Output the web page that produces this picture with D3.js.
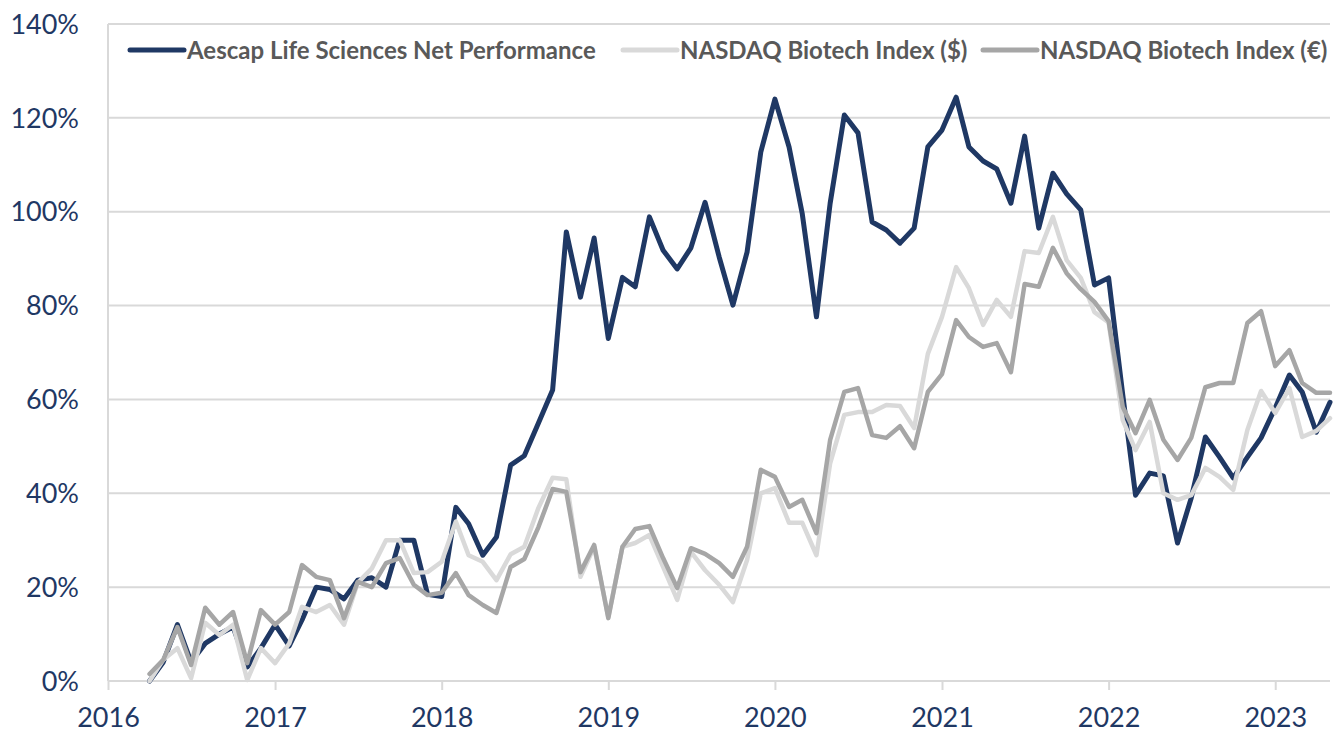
<!DOCTYPE html>
<meta charset="utf-8">
<script src="https://d3js.org/d3.v7.min.js"></script>
<style>
  body { margin: 0; background: #fff; }
  text { font-family: Lato, "Open Sans", sans-serif; }
</style>
<div id="chart"></div>
<script>

// series names + colours
var seriesNames = ["Aescap Life Sciences Net Performance", "NASDAQ Biotech Index ($)", "NASDAQ Biotech Index (\u20AC)"];
var seriesColors = ["#1f3864", "#d9d9d9", "#a6a6a6"];

// monthly observations, first one is April 2016
var firstMonth = "2016-04";

var aescap = [0, 4, 12, 4, 8, 10, 11.5, 3, 7, 12, 7.5, 13,
  20, 19.5, 17.5, 21.5, 22, 20, 30, 30, 18.5, 18, 37, 33.5,
  26.8, 30.7, 46, 48, 55, 62, 95.7, 81.8, 94.4, 73, 86, 84,
  98.9, 91.8, 87.8, 92.3, 102, 90.3, 80.1, 91.4, 112.7, 124, 113.8, 99.5,
  77.6, 101.8, 120.6, 116.8, 97.8, 96.1, 93.3, 96.5, 113.8, 117.4, 124.4, 113.8,
  110.8, 109.1, 101.8, 116.1, 96.5, 108.2, 103.8, 100.4, 84.4, 85.9, 61, 39.6,
  44.3, 43.7, 29.4, 39, 52, 47.7, 43.3, 47.7, 51.8, 58.2, 65.2, 61.6,
  53, 59.4];

var nbiUsd = [0, 4.5, 7, 0.6, 12.4, 9.8, 12, 0.2, 7, 3.8, 8, 15.8,
  14.7, 16.2, 12, 20.9, 24, 30, 30, 23, 23.2, 25.4, 34, 26.8,
  25.4, 21.5, 27, 28.6, 36.9, 43.3, 43, 22.2, 28.6, 13.6, 28.6, 29.4,
  31.1, 24.3, 17.3, 27.5, 23.6, 20.5, 16.8, 25.8, 40, 41.1, 33.7, 33.7,
  26.8, 46.4, 56.7, 57.3, 57.3, 58.8, 58.6, 53.9, 69.7, 77.6, 88.2, 83.7,
  75.9, 81.2, 77.6, 91.6, 91.2, 98.9, 89.7, 85.9, 78.6, 76.4, 55.6, 49.2,
  55.2, 40, 38.6, 39.6, 45.4, 43.5, 40.7, 53.5, 61.8, 57.1, 62.4, 52,
  53.3, 56];

var nbiEur = [1.5, 4.5, 11.5, 3.4, 15.6, 12, 14.7, 3.8, 15.1, 12, 14.7, 24.7,
  22.2, 21.5, 13.4, 21.1, 20, 25.1, 26.2, 20.5, 18.3, 18.8, 23, 18.3,
  16.2, 14.5, 24.3, 26, 32.8, 40.9, 40.3, 23.2, 29, 13.4, 28.6, 32.4,
  33, 26.2, 19.8, 28.3, 27.1, 25.1, 22.2, 28.6, 45, 43.5, 37.1, 38.6,
  31.5, 51.4, 61.6, 62.4, 52.4, 51.8, 54.3, 49.6, 61.6, 65.4, 76.9, 73.3,
  71.2, 72, 65.8, 84.6, 84, 92.3, 86.9, 83.5, 80.8, 76.7, 58.4, 52.8,
  59.9, 51.4, 47.1, 51.8, 62.6, 63.5, 63.5, 76.3, 78.8, 67.1, 70.5, 63.5,
  61.4, 61.4];

var yTicks = [0, 20, 40, 60, 80, 100, 120, 140];
var xTickYears = [2016, 2017, 2018, 2019, 2020, 2021, 2022, 2023];

var width = 1343, height = 736;
var plotLeft = 108, plotRight = 1330, plotTop = 24, plotBottom = 681;

var svg = d3.select("#chart").append("svg")
  .attr("width", width)
  .attr("height", height);

var parseMonth = d3.timeParse("%Y-%m");
var start = parseMonth(firstMonth);
var months = d3.range(aescap.length).map(function(i) { return d3.timeMonth.offset(start, i); });

var x = d3.scaleTime()
  .domain([new Date(2016, 0, 1), months[months.length - 1]])
  .range([plotLeft, plotRight]);

var y = d3.scaleLinear()
  .domain([0, 140])
  .range([plotBottom, plotTop]);

// gridlines
svg.append("g")
  .selectAll("line")
  .data(yTicks.slice(1))
  .enter().append("line")
    .attr("x1", plotLeft).attr("x2", plotRight)
    .attr("y1", function(d) { return y(d); })
    .attr("y2", function(d) { return y(d); })
    .attr("stroke", "#d9d9d9")
    .attr("stroke-width", 2);

// y axis line
svg.append("line")
  .attr("x1", plotLeft).attr("x2", plotLeft)
  .attr("y1", plotTop).attr("y2", plotBottom)
  .attr("stroke", "#d9d9d9")
  .attr("stroke-width", 2);

// y labels
svg.append("g")
  .selectAll("text")
  .data(yTicks)
  .enter().append("text")
    .attr("x", 79)
    .attr("y", function(d) { return y(d); })
    .attr("dy", "0.36em")
    .attr("text-anchor", "end")
    .attr("fill", "#1f3864")
    .style("font-size", "27px")
    .text(function(d) { return d + "%"; });

// x axis
var xAxis = d3.axisBottom(x)
  .tickValues(xTickYears.map(function(yr) { return new Date(yr, 0, 1); }))
  .tickFormat(d3.timeFormat("%Y"))
  .tickSize(9)
  .tickPadding(18);

var gx = svg.append("g")
  .attr("transform", "translate(0," + plotBottom + ")")
  .call(xAxis);
gx.select(".domain")
  .attr("d", "M" + plotLeft + ",0H" + plotRight)
  .attr("stroke", "#d9d9d9")
  .attr("stroke-width", 2);
gx.selectAll(".tick line")
  .attr("stroke", "#d9d9d9")
  .attr("stroke-width", 2);
gx.selectAll(".tick text")
  .attr("fill", "#1f3864")
  .style("font-size", "27px")
  .style("font-family", "Lato, sans-serif");

// lines
var allSeries = [aescap, nbiUsd, nbiEur];
var line = d3.line()
  .x(function(d, i) { return x(months[i]); })
  .y(function(d) { return y(d); });

svg.append("g")
  .selectAll("path")
  .data(allSeries)
  .enter().append("path")
    .attr("d", line)
    .attr("fill", "none")
    .attr("stroke", function(d, i) { return seriesColors[i]; })
    .attr("stroke-width", function(d, i) { return i === 0 ? 5 : 4.5; })
    .attr("stroke-linejoin", "round")
    .attr("stroke-linecap", "round");

// legend
var legendX = [130, 623, 983];
var legend = svg.append("g")
  .selectAll("g")
  .data(seriesNames)
  .enter().append("g")
    .attr("transform", function(d, i) { return "translate(" + legendX[i] + ",50)"; });

legend.append("line")
  .attr("x1", 0).attr("x2", 54)
  .attr("stroke", function(d, i) { return seriesColors[i]; })
  .attr("stroke-width", 5)
  .attr("stroke-linecap", "round");

legend.append("text")
  .attr("x", 57)
  .attr("dy", "0.36em")
  .attr("fill", "#595959")
  .style("font-size", "24px")
  .style("font-weight", "bold")
  .text(function(d) { return d; });

</script>
